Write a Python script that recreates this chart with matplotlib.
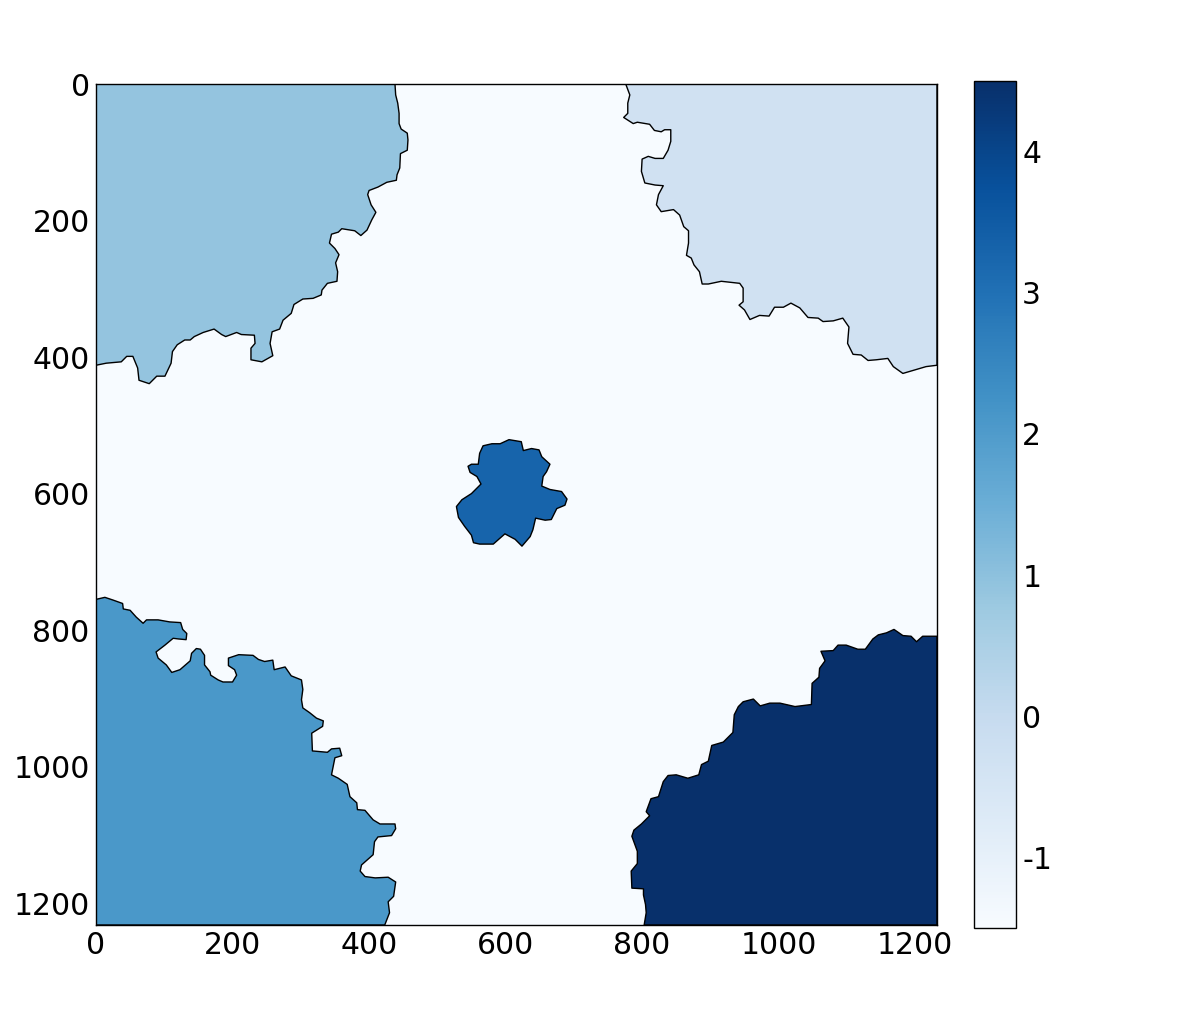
import matplotlib
matplotlib.use("Agg")
import matplotlib.pyplot as plt
from matplotlib.colors import Normalize
from matplotlib.cm import ScalarMappable

plt.rcParams['font.family'] = 'DejaVu Sans'
plt.rcParams['axes.unicode_minus'] = False

extent = 1232
ticks = [0, 200, 400, 600, 800, 1000, 1200]
cbar_ticks = [-1, 0, 1, 2, 3, 4]
background_value = -1

top_right_value = 0
top_right = [(1232,0),(776,0),(782,16),(779,28),(779,43),(773,49),(787,58),(793,56),(811,59),(818,68),(828,70),(833,67),(842,67),(842,84),(838,97),(831,109),(819,109),(809,106),(800,110),(799,128),(804,145),(819,148),(831,149),(824,162),(821,177),(828,187),(846,184),(855,192),(861,209),(868,215),(868,233),(865,251),(872,255),(876,265),(884,275),(888,293),(897,293),(916,289),(943,292),(948,299),(948,319),(942,324),(950,331),(958,345),(972,339),(986,340),(994,327),(1007,327),(1018,321),(1031,328),(1043,342),(1058,343),(1065,348),(1080,347),(1094,343),(1103,356),(1101,380),(1109,396),(1121,397),(1131,405),(1143,404),(1160,402),(1168,414),(1182,424),(1199,419),(1216,414),(1232,412)]

top_left_value = 1
top_left = [(0,0),(438,0),(439,16),(442,28),(444,43),(444,58),(447,66),(456,72),(457,82),(456,97),(446,102),(445,123),(441,133),(440,141),(426,144),(413,151),(400,156),(398,162),(403,177),(410,188),(404,199),(397,214),(388,222),(379,215),(360,212),(355,217),(345,220),(342,233),(350,241),(356,250),(351,262),(354,275),(353,289),(339,292),(331,302),(330,309),(318,314),(303,315),(290,323),(286,336),(274,346),(269,359),(258,363),(255,380),(259,398),(243,407),(227,404),(227,387),(233,380),(232,368),(213,367),(206,364),(190,370),(184,367),(173,359),(157,364),(144,370),(138,375),(130,375),(119,382),(112,392),(110,409),(101,428),(89,428),(78,439),(63,434),(61,416),(54,399),(45,399),(37,407),(15,409),(0,412)]

bottom_left_value = 2
bottom_left = [(0,1232),(0,755),(13,752),(25,756),(39,761),(40,769),(50,771),(59,781),(69,790),(74,785),(91,785),(108,788),(124,789),(127,799),(133,805),(132,814),(121,813),(113,812),(101,822),(88,832),(91,841),(103,851),(111,862),(123,858),(138,845),(140,834),(147,827),(153,828),(159,837),(159,851),(167,861),(168,866),(179,873),(186,876),(200,876),(206,866),(203,858),(194,852),(194,841),(209,836),(230,837),(238,843),(247,846),(259,844),(261,858),(277,854),(286,867),(301,873),(303,887),(301,902),(303,914),(313,921),(323,929),(333,933),(332,941),(316,951),(317,977),(339,979),(345,974),(357,973),(360,984),(350,987),(345,1012),(355,1017),(368,1026),(372,1044),(382,1053),(383,1063),(394,1064),(406,1078),(416,1084),(438,1084),(439,1091),(433,1101),(413,1103),(408,1110),(406,1129),(389,1144),(387,1153),(394,1161),(409,1163),(428,1162),(439,1169),(436,1190),(428,1198),(430,1214),(423,1232)]

center_value = 3
center = [(567,530),(580,527),(592,527),(605,521),(623,524),(626,537),(638,534),(649,536),(653,546),(665,557),(660,568),(655,575),(653,589),(665,594),(682,597),(690,608),(687,617),(675,622),(667,638),(658,639),(644,636),(640,653),(636,663),(624,677),(614,667),(599,659),(582,674),(562,674),(553,672),(550,661),(540,648),(531,635),(528,619),(536,609),(550,600),(564,586),(558,575),(548,569),(545,560),(550,557),(560,557),(562,541)]

bottom_right_value = 4
bottom_right = [(1232,1232),(803,1232),(806,1214),(805,1202),(802,1188),(802,1179),(785,1178),(784,1153),(793,1142),(793,1124),(785,1102),(788,1093),(799,1084),(811,1072),(806,1066),(813,1047),(824,1044),(831,1022),(838,1013),(850,1012),(867,1017),(883,1012),(887,997),(897,992),(902,969),(919,964),(933,950),(935,924),(941,912),(948,905),(963,901),(973,911),(987,907),(1002,907),(1024,912),(1048,909),(1049,878),(1059,869),(1060,856),(1068,845),(1062,831),(1080,830),(1087,822),(1099,822),(1116,828),(1127,828),(1138,813),(1146,807),(1158,804),(1169,799),(1182,808),(1194,809),(1202,817),(1211,809),(1232,809)]

W, H = 1196, 1009
fig = plt.figure(figsize=(W / 100, H / 100), dpi=100)
ax = fig.add_axes([96 / W, 1 - 925 / H, 841 / W, 841 / H])
cax = fig.add_axes([974 / W, 1 - 928 / H, 42 / W, 847 / H])

cmap = plt.get_cmap('Blues')
norm = Normalize(vmin=-1, vmax=4)
ax.set_facecolor(cmap(norm(background_value)))

regions = [(top_right, top_right_value), (top_left, top_left_value),
           (bottom_left, bottom_left_value), (center, center_value),
           (bottom_right, bottom_right_value)]
for poly, val in regions:
    xs, ys = zip(*poly)
    ax.fill(xs, ys, facecolor=cmap(norm(val)), edgecolor='black', linewidth=1.0, joinstyle='round')

ax.set_xlim(0, extent)
ax.set_ylim(extent, 0)
ax.set_xticks(ticks)
ax.set_yticks(ticks)
ax.tick_params(length=0, labelsize=21.5, pad=4.5)
for s in ax.spines.values():
    s.set_linewidth(1.0)

sm = ScalarMappable(norm=Normalize(vmin=-1.5, vmax=4.5), cmap=cmap)
cb = fig.colorbar(sm, cax=cax)
cb.set_ticks(cbar_ticks)
cb.set_ticklabels([str(t) for t in cbar_ticks])
cb.ax.tick_params(length=0, labelsize=21.5, pad=4.5)
cb.outline.set_linewidth(1.0)

fig.savefig('out.png', dpi=100)
